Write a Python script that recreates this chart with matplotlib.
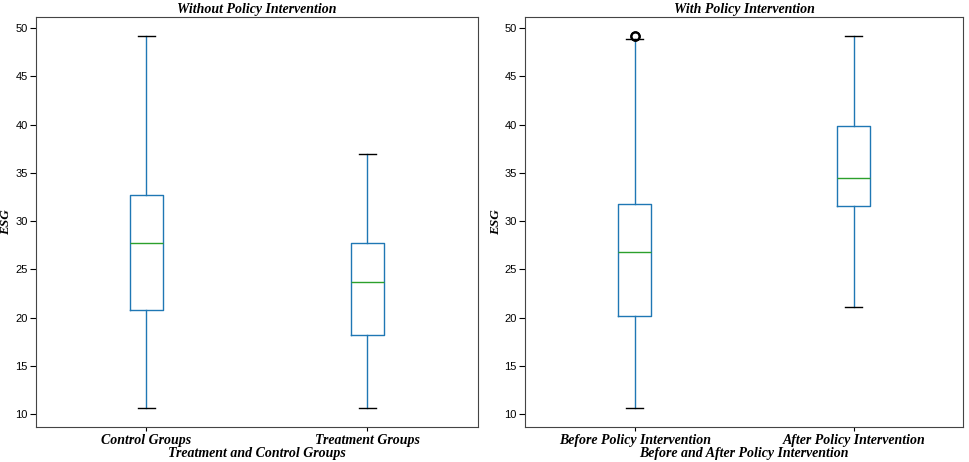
import matplotlib
matplotlib.use("Agg")
import matplotlib.pyplot as plt

plt.rcParams['font.family'] = ['Liberation Sans', 'DejaVu Sans']

# 箱线图统计量
left_labels = ['Control Groups', 'Treatment Groups']
left_whislo = [10.6, 10.6]
left_q1 = [20.8, 18.2]
left_med = [27.7, 23.7]
left_q3 = [32.7, 27.7]
left_whishi = [49.2, 36.9]
left_fliers = [[], []]

right_labels = ['Before Policy Intervention', 'After Policy Intervention']
right_whislo = [10.6, 21.1]
right_q1 = [20.2, 31.6]
right_med = [26.8, 34.5]
right_q3 = [31.8, 39.8]
right_whishi = [48.9, 49.2]
right_fliers = [[49.15, 49.2], []]

serif = dict(family='Liberation Serif', fontweight='bold', fontstyle='italic', fontsize=10)


def draw(ax, labels, lo, q1, med, q3, hi, fl, title, xlabel):
    stats = []
    for i in range(len(labels)):
        stats.append(dict(label=labels[i], whislo=lo[i], q1=q1[i], med=med[i],
                          q3=q3[i], whishi=hi[i], fliers=fl[i]))
    ax.bxp(stats,
           boxprops=dict(color='#1f77b4'),
           whiskerprops=dict(color='#1f77b4'),
           medianprops=dict(color='#2ca02c'),
           capprops=dict(color='black'),
           flierprops=dict(marker='o', markerfacecolor='none', markeredgecolor='black',
                           markersize=6, markeredgewidth=1.5))
    ax.set_title(title, pad=3, **serif)
    ax.set_xlabel(xlabel, labelpad=0, **serif)
    ax.set_ylabel('ESG', fontsize=9.5, fontweight='bold', fontstyle='italic',
                  family='Liberation Serif', labelpad=2)
    ax.tick_params(axis='x', length=3, pad=2)
    ax.tick_params(axis='y', labelsize=8, length=4, pad=2)
    for t in ax.get_xticklabels():
        t.set(**serif)
    for s in ax.spines.values():
        s.set_color('#444444')


fig = plt.figure(figsize=(9.69, 4.62), dpi=100)
ax1 = fig.add_axes([0.037, 0.076, 0.456, 0.887])
ax2 = fig.add_axes([0.542, 0.076, 0.452, 0.887])

draw(ax1, left_labels, left_whislo, left_q1, left_med, left_q3, left_whishi, left_fliers,
     'Without Policy Intervention', 'Treatment and Control Groups')
draw(ax2, right_labels, right_whislo, right_q1, right_med, right_q3, right_whishi, right_fliers,
     'With Policy Intervention', 'Before and After Policy Intervention')

fig.savefig('out.png', dpi=100)
